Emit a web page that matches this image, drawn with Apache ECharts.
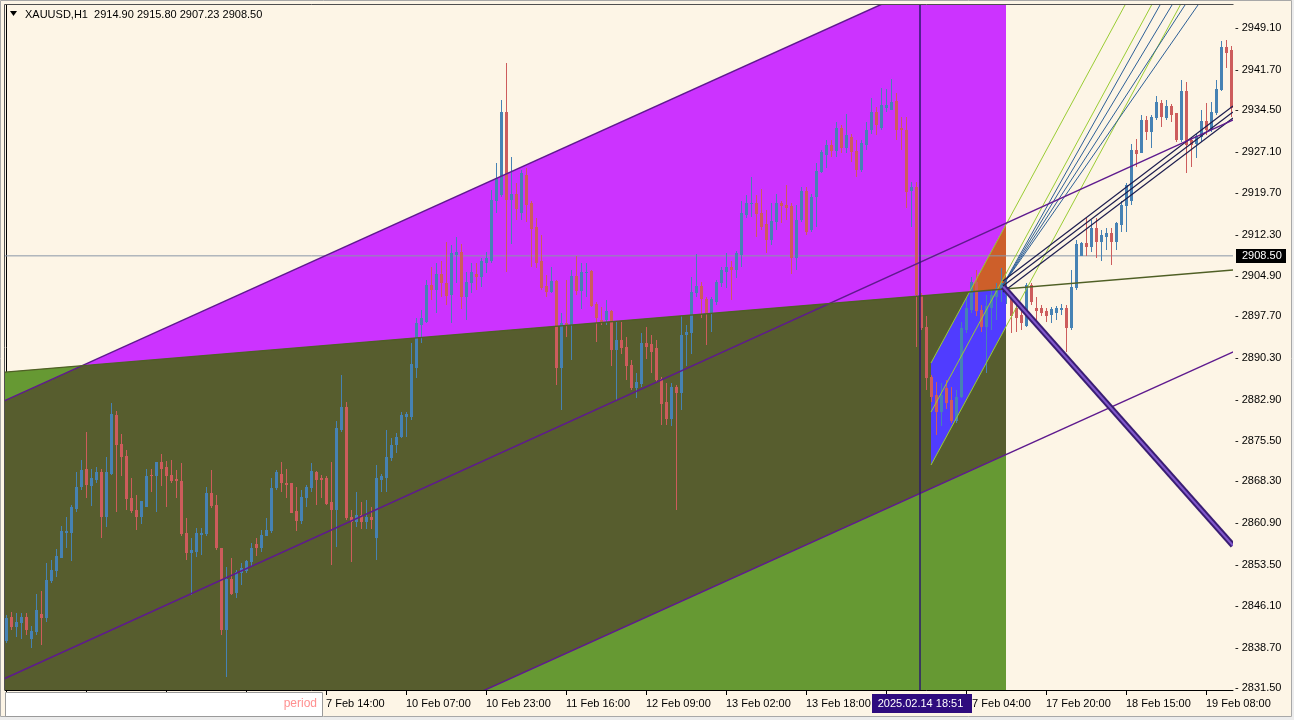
<!DOCTYPE html>
<html><head><meta charset="utf-8">
<script src="https://cdn.jsdelivr.net/npm/echarts@6/dist/echarts.min.js"></script>
<style>html,body{margin:0;padding:0;background:#fdf5e6;overflow:hidden}#c{width:1294px;height:720px}</style>
</head><body><div id="c"></div>
<script>
// ---- candles (bar index = position in arrays) ----
const opens = [2839.8,2844.1,2842.3,2843.0,2844.1,2840.3,2841.4,2844.7,2843.9,2850.5,
2852.3,2854.7,2859.2,2859.2,2863.4,2867.3,2870.6,2867.5,2868.6,2869.9,
2861.9,2869.6,2880.1,2875.0,2872.8,2865.3,2863.2,2862.0,2863.8,2869.5,
2869.2,2871.7,2870.8,2869.5,2868.7,2868.4,2859.1,2855.6,2855.8,2858.8,
2858.9,2866.2,2864.1,2856.4,2841.8,2850.9,2848.4,2851.9,2852.4,2854.0,
2857.2,2856.4,2858.5,2859.4,2867.1,2869.7,2868.0,2868.0,2863.0,2861.3,
2865.3,2867.1,2870.0,2869.0,2869.0,2864.6,2863.2,2877.5,2881.6,2862.0,
2861.0,2862.3,2861.0,2862.0,2858.2,2868.6,2869.0,2872.4,2874.8,2876.3,
2879.7,2879.8,2888.5,2896.2,2896.8,2903.3,2902.4,2905.3,2903.7,2901.5,
2908.7,2909.2,2901.1,2903.7,2905.3,2904.8,2907.3,2907.6,2918.2,2919.3,
2934.1,2918.5,2919.5,2916.2,2922.9,2917.9,2913.6,2907.5,2903.1,2902.1,
2904.0,2888.6,2896.6,2896.2,2904.9,2902.3,2905.4,2905.8,2900.0,2897.1,
2897.1,2898.6,2891.7,2893.5,2892.2,2889.0,2884.9,2885.7,2892.9,2892.8,
2892.0,2886.5,2882.4,2879.5,2885.2,2884.0,2894.4,2894.7,2901.9,2903.2,
2900.9,2898.1,2900.3,2903.6,2905.7,2906.6,2906.0,2908.7,2915.8,2917.7,
2918.0,2916.1,2914.1,2911.3,2914.6,2917.9,2917.6,2917.3,2908.2,2914.9,
2920.1,2913.1,2918.9,2923.5,2926.5,2928.3,2927.1,2931.3,2927.7,2929.7,
2927.2,2923.8,2928.3,2930.9,2934.2,2931.3,2934.8,2934.5,2936.1,2931.3,
2930.9,2920.1,2920.8,2901.5,2895.9,2887.0,2883.7,2880.7,2884.9,2882.8,
2879.0,2883.4,2895.3,2898.9,2903.9,2898.9,2895.9,2899.2,2901.2,2902.4,
2901.5,2901.5,2899.2,2898.0,2896.0,2903.3,2899.2,2899.2,2898.6,2898.0,
2898.4,2898.9,2899.2,2895.6,2902.7,2908.5,2910.8,2910.1,2913.4,2911.0,
2911.9,2912.5,2911.0,2914.0,2917.3,2918.2,2927.4,2926.9,2932.7,2930.6,
2933.0,2935.8,2933.0,2935.2,2933.9,2929.1,2937.8,2929.1,2928.5,2929.7,
2932.6,2930.9,2933.9,2938.1,2945.7,2945.1];
const highs = [2844.5,2845.1,2844.8,2844.8,2844.8,2842.5,2848.2,2848.8,2853.8,2854.3,
2856.2,2860.4,2862.0,2864.1,2869.9,2872.1,2877.2,2870.6,2870.9,2870.6,
2872.7,2882.3,2880.9,2876.8,2873.9,2868.9,2865.9,2864.8,2870.6,2870.6,
2871.8,2873.2,2872.0,2872.1,2870.3,2871.5,2861.7,2858.2,2860.0,2860.0,
2867.3,2870.3,2865.9,2856.4,2853.1,2854.6,2852.5,2853.8,2854.3,2857.3,
2858.2,2859.6,2861.7,2868.9,2870.3,2871.8,2870.6,2868.0,2867.4,2866.8,
2867.7,2871.5,2870.2,2869.4,2869.2,2871.8,2879.1,2887.3,2882.5,2863.2,
2866.5,2864.7,2865.0,2863.8,2871.2,2869.7,2877.5,2876.0,2876.9,2880.7,
2880.7,2892.9,2897.4,2898.9,2904.2,2906.6,2907.2,2907.5,2911.0,2910.4,
2911.9,2910.7,2905.7,2907.2,2907.2,2908.1,2909.2,2920.2,2925.0,2936.3,
2942.8,2926.2,2921.4,2923.8,2924.1,2918.2,2915.2,2912.2,2905.1,2906.6,
2904.2,2898.3,2904.2,2906.0,2908.4,2907.2,2907.2,2906.0,2900.3,2899.4,
2900.6,2898.9,2896.8,2896.8,2894.1,2889.9,2887.6,2894.7,2895.9,2894.4,
2893.5,2887.0,2885.8,2885.8,2885.5,2897.7,2896.2,2904.8,2908.9,2903.9,
2901.2,2901.2,2904.2,2906.6,2909.0,2907.5,2909.3,2918.2,2919.4,2922.6,
2919.4,2920.5,2916.7,2917.9,2919.5,2918.3,2921.1,2917.9,2917.6,2920.8,
2920.8,2919.6,2925.0,2927.4,2929.2,2929.2,2932.4,2931.8,2933.7,2930.3,
2929.2,2929.2,2932.4,2936.6,2935.1,2938.4,2938.2,2940.0,2937.5,2933.3,
2933.3,2921.7,2921.7,2901.8,2897.7,2887.3,2886.1,2885.8,2886.4,2885.2,
2884.6,2896.8,2901.2,2904.8,2906.0,2899.7,2901.5,2902.4,2903.6,2906.3,
2904.2,2902.1,2900.6,2898.9,2903.6,2903.6,2901.1,2899.7,2899.2,2899.3,
2899.6,2900.0,2899.7,2906.0,2911.3,2911.0,2915.5,2914.9,2915.2,2913.1,
2913.4,2913.4,2914.6,2918.2,2921.4,2928.5,2929.4,2933.6,2933.4,2933.6,
2936.9,2936.3,2936.3,2935.6,2934.0,2939.8,2939.5,2929.7,2930.3,2934.5,
2935.8,2936.0,2939.8,2946.7,2947.0,2945.9];
const lows = [2839.5,2841.8,2840.6,2840.3,2840.9,2838.6,2840.9,2839.2,2843.3,2850.2,
2851.3,2854.6,2856.4,2854.1,2862.8,2866.8,2865.3,2863.9,2868.0,2858.2,
2860.2,2869.5,2862.9,2869.2,2863.3,2862.6,2859.7,2860.7,2863.8,2866.5,
2862.9,2867.5,2863.8,2868.0,2865.3,2858.5,2854.3,2848.1,2854.9,2855.2,
2858.5,2863.5,2856.1,2840.9,2833.5,2848.1,2847.5,2849.9,2851.9,2853.1,
2855.0,2855.8,2858.5,2859.1,2866.8,2866.5,2865.3,2862.6,2859.4,2860.8,
2863.8,2866.5,2864.1,2865.3,2864.1,2853.4,2856.7,2877.2,2861.5,2854.0,
2860.2,2859.9,2859.9,2859.9,2854.3,2866.5,2866.5,2872.0,2873.3,2876.0,
2876.3,2879.3,2886.7,2892.9,2896.5,2900.6,2898.3,2901.2,2899.7,2896.5,
2903.6,2899.1,2897.1,2901.8,2902.4,2903.0,2905.4,2907.2,2916.1,2919.0,
2905.7,2910.7,2914.9,2914.9,2914.6,2906.6,2906.3,2902.4,2901.2,2901.8,
2885.5,2881.0,2894.1,2889.9,2901.5,2899.1,2901.2,2899.4,2893.2,2896.2,
2896.2,2888.8,2882.8,2891.1,2886.4,2884.6,2883.1,2885.2,2890.2,2887.6,
2886.1,2878.4,2878.4,2878.2,2863.2,2881.0,2888.8,2891.1,2901.2,2897.4,
2892.6,2895.0,2899.7,2903.0,2902.7,2900.6,2904.5,2906.6,2915.2,2915.5,
2911.9,2913.1,2909.0,2910.4,2913.1,2914.3,2914.9,2905.2,2906.0,2914.6,
2912.3,2912.8,2913.7,2923.2,2924.1,2926.2,2926.2,2926.8,2926.8,2925.3,
2922.6,2923.5,2927.4,2930.3,2930.0,2930.9,2934.2,2934.5,2929.2,2927.4,
2917.0,2913.7,2892.3,2895.3,2884.6,2882.5,2876.6,2878.1,2881.3,2878.7,
2878.7,2883.1,2894.7,2898.3,2897.7,2895.0,2887.6,2895.3,2897.1,2900.3,
2900.0,2894.7,2895.0,2895.3,2895.9,2899.7,2897.1,2897.7,2896.8,2896.5,
2897.1,2898.0,2891.4,2895.3,2902.4,2908.4,2908.4,2909.2,2908.1,2907.5,
2909.5,2906.9,2909.5,2912.8,2912.8,2917.6,2924.4,2926.8,2929.1,2927.7,
2932.7,2931.5,2932.7,2932.4,2928.8,2928.8,2923.2,2924.4,2925.9,2928.8,
2930.0,2930.6,2933.6,2937.8,2941.9,2933.3];
const closes = [2843.9,2842.3,2843.2,2844.1,2841.8,2841.7,2845.4,2843.9,2850.7,2852.5,
2855.0,2859.5,2859.4,2863.8,2867.3,2870.3,2867.7,2868.9,2869.9,2861.9,
2869.9,2880.4,2874.8,2872.6,2865.1,2863.1,2861.9,2864.8,2869.3,2869.2,
2871.8,2870.6,2869.2,2868.3,2868.3,2858.9,2855.5,2856.0,2859.1,2859.2,
2866.2,2863.9,2856.4,2841.8,2850.9,2848.3,2852.1,2852.8,2854.1,2856.4,
2856.4,2858.8,2859.6,2867.1,2870.0,2868.0,2867.6,2862.7,2861.3,2865.6,
2867.4,2870.2,2868.6,2868.6,2864.3,2863.2,2877.8,2881.6,2861.7,2861.1,
2862.3,2861.0,2862.0,2861.5,2868.9,2869.3,2872.6,2874.8,2876.3,2880.1,
2880.3,2889.3,2896.5,2897.4,2903.3,2902.4,2905.3,2903.6,2901.3,2909.0,
2909.2,2901.1,2903.9,2905.7,2904.8,2907.6,2908.1,2918.5,2922.3,2934.1,
2918.5,2919.5,2916.8,2923.2,2917.6,2913.2,2907.2,2902.7,2902.1,2904.0,
2888.6,2896.5,2896.2,2904.9,2902.3,2905.7,2905.7,2899.6,2897.4,2896.5,
2898.6,2891.7,2893.5,2892.0,2888.8,2884.9,2886.0,2892.9,2892.3,2891.4,
2886.4,2882.1,2879.5,2885.2,2884.0,2894.4,2895.0,2902.1,2903.2,2900.8,
2898.3,2900.8,2903.9,2906.0,2906.6,2906.0,2909.0,2916.1,2918.0,2918.0,
2915.9,2913.7,2911.3,2914.8,2917.9,2917.4,2917.0,2908.2,2914.9,2920.1,
2912.8,2918.9,2923.6,2927.0,2928.3,2927.1,2931.3,2927.8,2930.0,2927.0,
2923.8,2928.6,2930.9,2934.1,2931.8,2935.4,2935.4,2936.0,2930.9,2930.9,
2919.9,2920.7,2901.5,2895.6,2886.7,2883.4,2880.7,2883.7,2882.2,2879.0,
2883.4,2895.6,2899.2,2903.9,2898.6,2895.9,2899.5,2901.5,2902.7,2903.6,
2903.0,2897.7,2897.4,2896.5,2903.3,2900.3,2898.6,2898.3,2897.7,2899.0,
2899.2,2899.2,2895.6,2903.0,2910.7,2910.8,2910.1,2913.4,2911.0,2912.2,
2912.5,2911.0,2914.3,2917.6,2921.1,2927.4,2926.6,2932.7,2930.6,2933.2,
2936.0,2933.3,2935.2,2933.6,2929.1,2937.8,2928.3,2928.3,2929.9,2932.6,
2930.9,2934.2,2938.3,2945.7,2944.7,2934.8];

// ---- axis ticks / labels ----
const yTickValues = [2831.5,2838.7,2846.1,2853.5,2860.9,2868.3,2875.5,2882.9,2890.3,2897.7,2904.9,2912.3,2919.7,2927.1,2934.5,2941.7,2949.1];
const xTickBars = [0,16,32,48,64,80,96,112,128,144,160,176,192,208,224,240];
const xLabelBars = [64,80,96,112,128,144,160,176,192,208,224,240];
const xLabelTexts = ['7 Feb 14:00','10 Feb 07:00','10 Feb 23:00','11 Feb 16:00','12 Feb 09:00','13 Feb 02:00','13 Feb 18:00','14 Feb 11:00','17 Feb 04:00','17 Feb 20:00','18 Feb 15:00','19 Feb 08:00'];
const headerText = 'XAUUSD,H1  2914.90 2915.80 2907.23 2908.50';
const currentPrice = 2908.50;
const markerBar = 182.8;
const markerText = '2025.02.14 18:51';

// ---- drawing objects: [barIndex, price] anchors ----
const lineA = [[0, 2882.8], [174.8, 2953.2]];
const lineB = [[95.8, 2831.14], [245.4, 2891.37]];
const lineC = [[0, 2833.28], [245.4, 2932.71]];
const lineG = [[0, 2887.80], [245.4, 2905.98]];
const chan1 = [[185, 2889.41], [200, 2914.07]];
const chan2 = [[185, 2880.67], [200, 2905.33]];
const chan3 = [[185, 2871.23], [200, 2895.89]];
const fanOrigin = [199.4, 2903.31];
const fanBlueEnds = [[230.8, 2953.2], [233.2, 2953.2], [235.8, 2953.2], [238.4, 2953.2]];
const fanDark = [[[199.4, 2904.02], [245.4, 2935.20]], [[199.4, 2903.13], [245.4, 2934.13]], [[199.4, 2902.06], [245.4, 2933.06]]];
const arrowLine = [[199.46, 2903.0], [245.4, 2856.89]];
const fillStart = -10, fillEnd = 200, chanStart = 185, chanEnd = 200;

const X_MIN = -0.2, X_MAX = 245.4, Y_MIN = 2831.14, Y_MAX = 2953.20;

function lineAt(L, i) { const a = L[0], b = L[1]; return a[1] + (b[1] - a[1]) * (i - a[0]) / (b[0] - a[0]); }
function clip(poly, f) {
  const out = [];
  for (let k = 0; k < poly.length; k++) {
    const a = poly[k], b = poly[(k + 1) % poly.length];
    const fa = f(a), fb = f(b);
    if (fa >= 0) out.push(a);
    if ((fa >= 0) !== (fb >= 0)) { const t = fa / (fa - fb); out.push([a[0] + (b[0] - a[0]) * t, a[1] + (b[1] - a[1]) * t]); }
  }
  return out;
}
const pLow = 2700;
const gPoly = [[fillStart, lineAt(lineG, fillStart)], [fillEnd, lineAt(lineG, fillEnd)], [fillEnd, pLow], [fillStart, pLow]];
const mPoly = [[fillStart, lineAt(lineA, fillStart)], [fillEnd, lineAt(lineA, fillEnd)], [fillEnd, lineAt(lineB, fillEnd)], [fillStart, lineAt(lineB, fillStart)]];
const oPoly = clip(mPoly, p => lineAt(lineG, p[0]) - p[1]);
const bPoly = [[chanStart, lineAt(chan1, chanStart)], [chanEnd, lineAt(chan1, chanEnd)], [chanEnd, lineAt(chan3, chanEnd)], [chanStart, lineAt(chan3, chanStart)]];
const orPoly = clip(bPoly, p => p[1] - lineAt(lineG, p[0]));

function polySeries(poly, color, z) {
  return { type: 'custom', z: z, clip: true, silent: true, data: [[0, 0]],
    renderItem: (params, api) => ({ type: 'polygon', shape: { points: poly.map(pt => api.coord(pt)) }, style: { fill: color } }) };
}
function segSeries(segs, color, width, z) {
  return { type: 'custom', z: z, clip: true, silent: true, data: segs.map((s, k) => [k, 0]),
    renderItem: (params, api) => {
      const s = segs[params.dataIndex];
      const a = api.coord(s[0]), b = api.coord(s[1]);
      return { type: 'line', shape: { x1: a[0], y1: a[1], x2: b[0], y2: b[1] }, style: { stroke: color, lineWidth: width } };
    } };
}
function ext(L, i0, i1) { return [[i0, lineAt(L, i0)], [i1, lineAt(L, i1)]]; }

const FONT = 'Liberation Sans';
const chart = echarts.init(document.getElementById('c'), null, { renderer: 'canvas' });
const candleData = opens.map((o, i) => [i, o, highs[i], lows[i], closes[i]]);

const option = {
  backgroundColor: '#fdf5e6',
  animation: false,
  grid: { left: 5, top: 5, width: 1228, height: 685, show: true, backgroundColor: '#fdf5e6', borderWidth: 0 },
  xAxis: { type: 'value', min: X_MIN, max: X_MAX,
    axisLine: { show: true, onZero: false, lineStyle: { color: '#000', width: 1 } },
    axisTick: { show: true, customValues: xTickBars, length: 5, lineStyle: { color: '#000' } },
    axisLabel: { customValues: xLabelBars, formatter: v => xLabelTexts[xLabelBars.indexOf(Math.round(v))] || '', align: 'left', color: '#000', fontFamily: FONT, fontSize: 11, margin: 8 },
    splitLine: { show: false } },
  yAxis: { type: 'value', position: 'right', min: Y_MIN, max: Y_MAX, scale: true,
    axisLine: { show: true, lineStyle: { color: '#000', width: 1 } },
    axisTick: { show: false },
    axisLabel: { customValues: yTickValues, formatter: v => '- ' + v.toFixed(2), color: '#000', fontFamily: FONT, fontSize: 11, margin: 2 },
    splitLine: { show: false } },
  series: [
    polySeries(gPoly, '#669933', 1),
    polySeries(mPoly, '#cc33ff', 1),
    polySeries(oPoly, '#575d2e', 1),
    polySeries(bPoly, '#503cff', 1),
    polySeries(orPoly, '#cd5f2a', 1),
    segSeries([[[X_MIN - 1, currentPrice], [X_MAX + 1, currentPrice]]], '#8a96a8', 1, 2),
    {
      type: 'custom', z: 3, clip: true, data: candleData,
      renderItem: (params, api) => {
        const i = api.value(0), o = api.value(1), h = api.value(2), l = api.value(3), c = api.value(4);
        const pO = api.coord([i, o]), pC = api.coord([i, c]), pH = api.coord([i, h]), pL = api.coord([i, l]);
        const x = Math.round(pO[0]);
        const col = c >= o ? '#4682b4' : '#cd5c5c';
        const top = Math.round(Math.min(pO[1], pC[1])), bot = Math.round(Math.max(pO[1], pC[1]));
        return { type: 'group', children: [
          { type: 'rect', shape: { x: x, y: Math.round(pH[1]), width: 1, height: Math.max(1, Math.round(pL[1]) - Math.round(pH[1])) }, style: { fill: col } },
          { type: 'rect', shape: { x: x - 1, y: top, width: 3, height: Math.max(1, bot - top) }, style: { fill: col } }
        ] };
      }
    },
    segSeries([ext(chan1, chanStart, 246), ext(chan2, chanStart, 246), ext(chan3, chanStart, 246)], '#99cc33', 1, 4),
    segSeries(fanBlueEnds.map(e => [fanOrigin, e]), '#2d5f96', 1, 4),
    segSeries(fanDark, '#1c1c4e', 1.2, 4),
    segSeries([ext(lineA, -5, 246), ext(lineB, 80, 246), ext(lineC, -5, 246)], '#5e1a8e', 1.5, 4),
    segSeries([ext(lineG, -5, 246)], '#4f5f25', 1.3, 4),
    segSeries([arrowLine], '#3a1d73', 6, 5),
    segSeries([arrowLine], '#8058cc', 2, 6),
    segSeries([[[markerBar, Y_MIN - 5], [markerBar, Y_MAX + 5]]], '#2d1a6e', 1.5, 6)
  ]
};
chart.setOption(option);

const yP = Math.round(chart.convertToPixel({ yAxisIndex: 0 }, currentPrice));
const xM = chart.convertToPixel({ xAxisIndex: 0 }, markerBar);
chart.setOption({ graphic: [
  { type: 'rect', z: 100, shape: { x: 0.5, y: 0.5, width: 1291, height: 716 }, style: { fill: 'none', stroke: '#a8a8a8', lineWidth: 1 } },
  { type: 'rect', z: 100, shape: { x: 1292, y: 0, width: 2, height: 720 }, style: { fill: '#ececec' } },
  { type: 'rect', z: 100, shape: { x: 0, y: 717, width: 1294, height: 3 }, style: { fill: '#ececec' } },
  { type: 'polyline', z: 100, shape: { points: [[4.5, 690], [4.5, 4.5], [1233.5, 4.5]] }, style: { stroke: '#505050', lineWidth: 1, fill: 'none' } },
  { type: 'polygon', z: 100, shape: { points: [[10, 11], [17, 11], [13.5, 16]] }, style: { fill: '#000' } },
  { type: 'text', z: 100, x: 25, y: 15, style: { text: headerText, fill: '#000', font: '11px "' + FONT + '"', verticalAlign: 'middle' } },
  { type: 'rect', z: 100, shape: { x: 5.5, y: 692.5, width: 317, height: 24 }, style: { fill: '#ffffff', stroke: '#9a9a9a', lineWidth: 1 } },
  { type: 'text', z: 101, x: 317, y: 704, style: { text: 'period', fill: '#ff9090', font: '12px "' + FONT + '"', align: 'right', verticalAlign: 'middle' } },
  { type: 'rect', z: 100, shape: { x: Math.round(xM) - 48, y: 694, width: 100, height: 19 }, style: { fill: '#2e0b7e' } },
  { type: 'text', z: 101, x: Math.round(xM) + 0.5, y: 703.5, style: { text: markerText, fill: '#ffffff', font: '11px "' + FONT + '"', align: 'center', verticalAlign: 'middle' } },
  { type: 'rect', z: 100, shape: { x: 1236, y: yP - 7, width: 50, height: 14 }, style: { fill: '#000' } },
  { type: 'text', z: 101, x: 1242, y: yP, style: { text: currentPrice.toFixed(2), fill: '#ffffff', font: '11px "' + FONT + '"', verticalAlign: 'middle' } }
] });
</script>
</body></html>
